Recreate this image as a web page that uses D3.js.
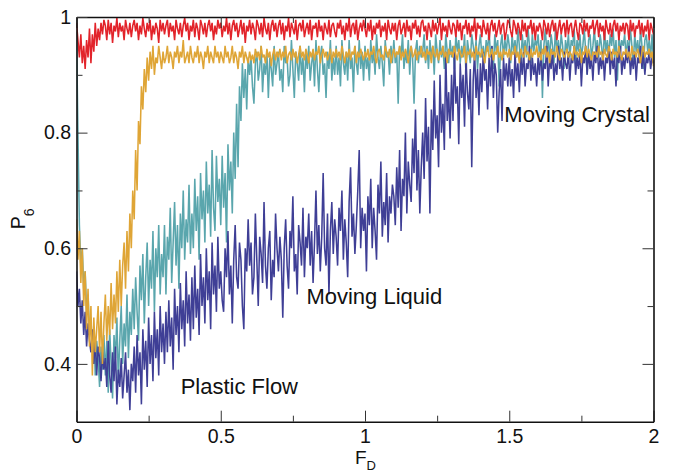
<!DOCTYPE html>
<html>
<head>
<meta charset="utf-8">
<script src="https://cdn.jsdelivr.net/npm/d3@7"></script>
<style>
  html, body { margin: 0; padding: 0; background: #fff; }
  svg { display: block; }
  text { font-family: "Liberation Sans", Arial, Helvetica, sans-serif; fill: #111; }
</style>
</head>
<body>
<script>
// ---------------- data (F_D from 0 to 2, equally spaced samples) ----------------
const fdMin = 0, fdMax = 2;

const seriesRed = [
  0.99,0.96,0.93,0.97,0.92,0.95,0.91,0.96,0.93,0.98,0.92,0.97,0.94,0.99,0.95,0.98,0.96,0.99,0.97,0.995,
  0.985,0.96,0.995,0.97,0.99,0.955,0.985,0.975,0.998,0.965,0.99,0.975,0.985,0.96,0.995,0.98,0.97,0.99,0.965,0.985,
  0.995,0.975,0.99,0.96,0.985,0.97,0.998,0.98,0.965,0.99,0.975,0.995,0.96,0.985,0.97,0.99,0.98,0.955,0.995,0.975,
  0.99,0.97,0.985,0.995,0.965,0.99,0.975,0.985,0.96,0.995,0.98,0.97,0.99,0.965,0.985,0.998,0.975,0.99,0.96,0.985,
  0.975,0.995,0.965,0.99,0.98,0.96,0.995,0.985,0.97,0.99,0.965,0.985,0.995,0.975,0.99,0.96,0.985,0.97,0.995,0.98,
  0.99,0.965,0.985,0.975,0.998,0.97,0.99,0.96,0.985,0.995,0.975,0.99,0.965,0.98,0.995,0.97,0.99,0.955,0.985,0.975,
  0.995,0.97,0.99,0.98,0.96,0.995,0.985,0.97,0.99,0.965,0.998,0.98,0.97,0.99,0.96,0.985,0.995,0.975,0.99,0.965,
  0.985,0.995,0.97,0.99,0.96,0.985,0.975,0.998,0.965,0.99,0.98,0.97,0.995,0.96,0.985,0.99,0.975,0.995,0.965,0.98,
  0.99,0.97,0.995,0.96,0.985,0.98,0.99,0.965,0.995,0.975,0.985,0.96,0.99,0.98,0.97,0.995,0.965,0.985,0.99,0.975,
  0.965,0.99,0.98,0.995,0.97,0.985,0.96,0.99,0.975,0.998,0.965,0.985,0.99,0.97,0.995,0.96,0.98,0.99,0.975,0.995,
  0.98,0.965,0.99,0.975,0.995,0.96,0.985,0.97,0.99,0.98,0.995,0.965,0.985,0.975,0.99,0.96,0.995,0.98,0.97,0.99,
  0.975,0.99,0.96,0.985,0.995,0.97,0.98,0.99,0.965,0.995,0.975,0.985,0.96,0.99,0.98,0.995,0.97,0.985,0.965,0.99,
  0.995,0.975,0.985,0.96,0.99,0.98,0.965,0.995,0.975,0.99,0.97,0.985,0.998,0.96,0.99,0.975,0.985,0.965,0.995,0.98,
  0.97,0.99,0.985,0.965,0.995,0.975,0.99,0.96,0.985,0.98,0.995,0.97,0.99,0.965,0.985,0.975,0.998,0.96,0.99,0.98,
  0.985,0.965,0.995,0.98,0.97,0.99,0.96,0.985,0.995,0.975,0.99,0.965,0.98,0.995,0.97,0.985,0.99,0.96,0.975,0.995,
  0.99,0.975,0.965,0.995,0.985,0.97,0.99,0.98,0.96,0.995,0.975,0.99,0.965,0.985,0.98,0.995,0.97,0.99,0.96,0.985,
  0.975,0.99,0.98,0.96,0.995,0.985,0.97,0.99,0.965,0.985,0.995,0.975,0.99,0.96,0.98,0.995,0.97,0.985,0.99,0.965,
  0.995,0.97,0.985,0.99,0.965,0.98,0.995,0.975,0.96,0.99,0.985,0.97,0.995,0.975,0.99,0.965,0.985,0.98,0.995,0.97,
  0.985,0.995,0.965,0.99,0.975,0.985,0.96,0.995,0.98,0.97,0.99,0.965,0.985,0.995,0.975,0.99,0.96,0.985,0.975,0.99,
  0.97,0.99,0.985,0.96,0.995,0.975,0.99,0.965,0.985,0.98,0.995,0.97,0.99,0.965,0.985,0.975,0.995,0.96,0.99,0.98,
  0.97
];

const seriesOrange = [
  0.65,0.58,0.63,0.54,0.60,0.50,0.56,0.46,0.53,0.43,0.50,0.38,0.48,0.42,0.46,0.50,0.42,0.49,0.40,0.47,
  0.52,0.44,0.50,0.45,0.54,0.46,0.52,0.47,0.56,0.49,0.58,0.50,0.57,0.61,0.53,0.63,0.56,0.66,0.60,0.70,
  0.65,0.77,0.70,0.82,0.78,0.88,0.84,0.91,0.87,0.93,0.89,0.94,0.91,0.95,0.90,0.93,0.92,0.95,0.93,0.91,
  0.94,0.92,0.93,0.95,0.92,0.94,0.93,0.91,0.94,0.93,0.95,0.92,0.94,0.93,0.96,0.92,0.93,0.94,0.92,0.95,
  0.93,0.92,0.94,0.93,0.95,0.92,0.94,0.93,0.91,0.94,0.93,0.95,0.92,0.94,0.93,0.92,0.95,0.93,0.94,0.92,
  0.94,0.93,0.92,0.95,0.93,0.94,0.92,0.93,0.95,0.92,0.94,0.93,0.91,0.94,0.93,0.95,0.92,0.94,0.93,0.92,
  0.94,0.925,0.935,0.92,0.945,0.93,0.94,0.925,0.95,0.93,0.935,0.92,0.945,0.93,0.94,0.915,0.935,0.945,0.925,0.94,
  0.93,0.945,0.925,0.94,0.93,0.95,0.92,0.935,0.94,0.925,0.945,0.93,0.94,0.92,0.935,0.95,0.93,0.94,0.925,0.945,
  0.935,0.92,0.94,0.93,0.945,0.925,0.94,0.935,0.95,0.92,0.935,0.945,0.93,0.94,0.925,0.935,0.945,0.92,0.94,0.93,
  0.945,0.93,0.94,0.925,0.95,0.935,0.92,0.94,0.93,0.945,0.925,0.94,0.935,0.95,0.92,0.94,0.93,0.945,0.935,0.925,
  0.94,0.93,0.945,0.925,0.94,0.935,0.95,0.93,0.92,0.94,0.945,0.93,0.935,0.925,0.95,0.94,0.93,0.945,0.92,0.935,
  0.945,0.93,0.94,0.935,0.95,0.925,0.94,0.93,0.945,0.935,0.92,0.94,0.95,0.93,0.935,0.945,0.925,0.94,0.935,0.95,
  0.93,0.94,0.925,0.945,0.935,0.94,0.92,0.95,0.935,0.93,0.945,0.925,0.94,0.935,0.95,0.93,0.94,0.92,0.945,0.935,
  0.94,0.93,0.95,0.935,0.925,0.945,0.94,0.93,0.935,0.95,0.92,0.94,0.935,0.945,0.93,0.94,0.925,0.95,0.935,0.94,
  0.93,0.945,0.935,0.92,0.94,0.95,0.93,0.935,0.945,0.925,0.94,0.935,0.95,0.93,0.94,0.925,0.945,0.935,0.94,0.93,
  0.945,0.925,0.94,0.935,0.95,0.93,0.94,0.92,0.945,0.935,0.93,0.95,0.935,0.94,0.925,0.945,0.93,0.94,0.935,0.95,
  0.93,0.94,0.925,0.945,0.935,0.95,0.93,0.94,0.92,0.945,0.935,0.94,0.93,0.95,0.935,0.925,0.945,0.94,0.93,0.935,
  0.945,0.93,0.94,0.935,0.925,0.95,0.935,0.94,0.93,0.945,0.92,0.94,0.935,0.95,0.93,0.945,0.935,0.925,0.94,0.935,
  0.94,0.93,0.95,0.935,0.94,0.925,0.945,0.935,0.93,0.95,0.94,0.925,0.945,0.935,0.94,0.93,0.95,0.935,0.925,0.94,
  0.935,0.945,0.93,0.94,0.925,0.95,0.935,0.94,0.93,0.945,0.935,0.92,0.94,0.95,0.93,0.94,0.935,0.945,0.93,0.94,
  0.915
];

const seriesTeal = [
  0.975,0.80,0.64,0.57,0.60,0.53,0.56,0.49,0.52,0.45,0.48,0.42,0.46,0.38,0.44,0.41,0.36,0.43,0.39,0.45,
  0.38,0.44,0.35,0.46,0.40,0.34,0.45,0.41,0.48,0.37,0.44,0.50,0.40,0.47,0.43,0.52,0.41,0.49,0.45,0.53,
  0.46,0.55,0.49,0.44,0.57,0.51,0.59,0.47,0.55,0.61,0.50,0.58,0.53,0.63,0.49,0.60,0.55,0.64,0.52,0.59,
  0.55,0.64,0.52,0.62,0.58,0.67,0.54,0.61,0.68,0.57,0.64,0.53,0.66,0.60,0.70,0.58,0.65,0.61,0.71,0.59,
  0.66,0.60,0.72,0.63,0.69,0.58,0.73,0.65,0.70,0.61,0.75,0.66,0.71,0.62,0.77,0.67,0.63,0.76,0.68,0.72,
  0.64,0.76,0.67,0.73,0.61,0.78,0.70,0.75,0.66,0.80,0.72,0.85,0.74,0.88,0.82,0.92,0.86,0.91,0.84,0.93,
  0.90,0.93,0.88,0.85,0.92,0.94,0.89,0.91,0.95,0.87,0.92,0.90,0.94,0.86,0.93,0.91,0.88,0.95,0.90,0.92,
  0.94,0.89,0.91,0.87,0.95,0.92,0.93,0.88,0.90,0.96,0.91,0.86,0.94,0.92,0.89,0.95,0.90,0.93,0.87,0.94,
  0.91,0.95,0.89,0.92,0.94,0.88,0.96,0.91,0.87,0.93,0.95,0.90,0.92,0.86,0.94,0.91,0.96,0.89,0.93,0.90,
  0.95,0.90,0.93,0.88,0.96,0.92,0.90,0.94,0.89,0.96,0.91,0.93,0.87,0.95,0.92,0.90,0.96,0.91,0.94,0.89,
  0.95,0.91,0.93,0.89,0.96,0.92,0.94,0.90,0.97,0.93,0.91,0.95,0.92,0.88,0.96,0.93,0.94,0.90,0.95,0.92,
  0.96,0.92,0.94,0.85,0.95,0.93,0.97,0.91,0.94,0.92,0.96,0.90,0.95,0.93,0.85,0.94,0.96,0.92,0.95,0.93,
  0.94,0.97,0.92,0.95,0.91,0.96,0.93,0.95,0.90,0.97,0.94,0.92,0.96,0.93,0.95,0.91,0.97,0.94,0.92,0.96,
  0.93,0.95,0.91,0.97,0.94,0.96,0.92,0.95,0.93,0.97,0.90,0.96,0.94,0.92,0.97,0.95,0.93,0.96,0.91,0.95,
  0.97,0.93,0.95,0.92,0.96,0.94,0.98,0.93,0.95,0.91,0.97,0.94,0.96,0.88,0.95,0.97,0.93,0.96,0.94,0.97,
  0.95,0.92,0.97,0.94,0.96,0.93,0.98,0.95,0.91,0.97,0.94,0.96,0.93,0.98,0.95,0.92,0.97,0.94,0.96,0.95,
  0.97,0.93,0.96,0.86,0.95,0.98,0.94,0.96,0.93,0.97,0.95,0.92,0.98,0.94,0.96,0.93,0.97,0.95,0.91,0.96,
  0.94,0.97,0.93,0.96,0.95,0.98,0.92,0.96,0.94,0.97,0.93,0.95,0.98,0.94,0.90,0.96,0.97,0.93,0.95,0.98,
  0.94,0.96,0.93,0.97,0.95,0.92,0.98,0.94,0.96,0.93,0.97,0.95,0.98,0.93,0.96,0.89,0.97,0.94,0.96,0.95,
  0.97,0.93,0.96,0.94,0.98,0.95,0.92,0.97,0.94,0.96,0.93,0.98,0.95,0.91,0.96,0.97,0.94,0.96,0.93,0.97,
  0.92
];

const seriesNavy = [
  0.56,0.50,0.53,0.47,0.51,0.45,0.49,0.43,0.47,0.44,0.42,0.46,0.40,0.44,0.38,0.43,0.41,0.37,0.42,0.39,
  0.41,0.36,0.44,0.38,0.35,0.42,0.37,0.43,0.33,0.39,0.36,0.41,0.34,0.38,0.42,0.35,0.39,0.32,0.40,0.37,
  0.43,0.35,0.45,0.38,0.42,0.33,0.46,0.39,0.44,0.36,0.48,0.40,0.45,0.37,0.49,0.41,0.46,0.38,0.50,0.42,
  0.47,0.40,0.49,0.42,0.51,0.43,0.48,0.39,0.53,0.45,0.50,0.42,0.54,0.46,0.51,0.43,0.56,0.47,0.52,0.44,
  0.55,0.46,0.57,0.48,0.53,0.45,0.59,0.50,0.55,0.47,0.60,0.51,0.56,0.46,0.61,0.52,0.57,0.49,0.62,0.53,
  0.56,0.51,0.49,0.60,0.55,0.63,0.52,0.57,0.47,0.58,0.64,0.55,0.53,0.61,0.58,0.50,0.46,0.60,0.56,0.65,
  0.57,0.61,0.52,0.55,0.66,0.58,0.50,0.62,0.59,0.54,0.68,0.57,0.53,0.60,0.63,0.51,0.58,0.55,0.66,0.60,
  0.56,0.62,0.58,0.48,0.60,0.65,0.57,0.53,0.63,0.60,0.69,0.56,0.59,0.52,0.64,0.61,0.57,0.67,0.55,0.62,
  0.60,0.66,0.57,0.63,0.54,0.61,0.70,0.59,0.64,0.56,0.62,0.73,0.60,0.57,0.66,0.52,0.63,0.68,0.59,0.65,
  0.62,0.57,0.67,0.63,0.70,0.58,0.65,0.61,0.55,0.68,0.74,0.62,0.66,0.59,0.64,0.70,0.77,0.60,0.67,0.63,
  0.66,0.56,0.69,0.64,0.72,0.60,0.67,0.63,0.58,0.71,0.66,0.75,0.62,0.68,0.64,0.73,0.61,0.69,0.66,0.71,
  0.69,0.64,0.74,0.67,0.77,0.63,0.72,0.69,0.80,0.66,0.75,0.71,0.68,0.79,0.73,0.84,0.70,0.77,0.66,0.74,
  0.80,0.72,0.86,0.75,0.81,0.66,0.84,0.77,0.89,0.79,0.83,0.74,0.90,0.80,0.85,0.77,0.94,0.82,0.87,0.79,
  0.90,0.82,0.94,0.85,0.88,0.78,0.92,0.86,0.90,0.81,0.93,0.87,0.84,0.91,0.74,0.89,0.94,0.86,0.91,0.83,
  0.92,0.87,0.94,0.89,0.91,0.84,0.93,0.88,0.95,0.86,0.92,0.90,0.80,0.87,0.91,0.82,0.93,0.89,0.92,0.88,
  0.93,0.88,0.91,0.86,0.94,0.89,0.92,0.87,0.93,0.90,0.94,0.88,0.92,0.91,0.95,0.89,0.93,0.90,0.92,0.88,
  0.93,0.90,0.94,0.89,0.92,0.91,0.95,0.88,0.93,0.91,0.94,0.89,0.92,0.90,0.95,0.91,0.93,0.89,0.94,0.92,
  0.91,0.94,0.89,0.93,0.92,0.95,0.90,0.93,0.91,0.94,0.88,0.93,0.92,0.95,0.90,0.94,0.91,0.93,0.89,0.94,
  0.92,0.95,0.90,0.93,0.91,0.94,0.89,0.93,0.92,0.95,0.90,0.94,0.91,0.93,0.88,0.94,0.92,0.95,0.90,0.93,
  0.91,0.94,0.92,0.95,0.90,0.93,0.91,0.94,0.89,0.93,0.92,0.95,0.91,0.94,0.90,0.93,0.92,0.94,0.91,0.93,
  0.92
];

const xMajorTicks = [0, 0.5, 1, 1.5, 2];
const xTickLabels = ["0", "0.5", "1", "1.5", "2"];
const xMinorTicks = [0.25, 0.75, 1.25, 1.75];
const yMajorTicks = [0.4, 0.6, 0.8, 1];
const yTickLabels = ["0.4", "0.6", "0.8", "1"];
const yMinorTicks = [0.5, 0.7, 0.9];

const annotations = [
  { text: "Plastic Flow",   fd: 0.361, p6: 0.348 },
  { text: "Moving Liquid",  fd: 0.797, p6: 0.5035 },
  { text: "Moving Crystal", fd: 1.483, p6: 0.819 }
];

// drawing order: first drawn is at the bottom
const series = [
  { name: "teal",   values: seriesTeal,   color: "#5aa6ad" },
  { name: "navy",   values: seriesNavy,   color: "#3f3f96" },
  { name: "orange", values: seriesOrange, color: "#dfa536" },
  { name: "red",    values: seriesRed,    color: "#e2232a" }
];

// ---------------- chart ----------------
const W = 680, H = 472;
const svg = d3.select("body").append("svg").attr("width", W).attr("height", H);

const x = d3.scaleLinear().domain([0, 2]).range([76.5, 653.5]);
const y = d3.scaleLinear().domain([0.3, 1]).range([421.7, 17]);

svg.append("clipPath").attr("id", "plotclip")
  .append("rect")
  .attr("x", x(0)).attr("y", y(1))
  .attr("width", x(2) - x(0)).attr("height", y(0.3) - y(1));

const plot = svg.append("g").attr("clip-path", "url(#plotclip)");

series.forEach(s => {
  const n = s.values.length;
  const line = d3.line()
    .x((d, i) => x(fdMin + (fdMax - fdMin) * i / (n - 1)))
    .y(d => y(d));
  plot.append("path")
    .datum(s.values)
    .attr("fill", "none")
    .attr("stroke", s.color)
    .attr("stroke-width", 1.55)
    .attr("stroke-linejoin", "bevel")
    .attr("d", line);
});

// axes
function styleAxis(g, showDomain) {
  g.selectAll(".tick line").attr("stroke", "#333").attr("stroke-width", 1);
  g.selectAll("text").style("font-size", "19.5px").attr("fill", "#111")
    .style("font-family", '"Liberation Sans", Arial, Helvetica, sans-serif');
  if (showDomain) g.select(".domain").attr("stroke", "#111").attr("stroke-width", 1.6);
  else g.select(".domain").remove();
}

// bottom
svg.append("g").attr("transform", `translate(0,${y(0.3)})`)
  .call(d3.axisBottom(x).tickValues(xMajorTicks)
    .tickFormat((d, i) => xTickLabels[i]).tickSizeInner(-11).tickSizeOuter(0).tickPadding(7))
  .call(g => styleAxis(g, true));
svg.append("g").attr("transform", `translate(0,${y(0.3)})`)
  .call(d3.axisBottom(x).tickValues(xMinorTicks).tickFormat("").tickSizeInner(-6).tickSizeOuter(0))
  .call(g => styleAxis(g, false));

// top
svg.append("g").attr("transform", `translate(0,${y(1)})`)
  .call(d3.axisTop(x).tickValues(xMajorTicks).tickFormat("").tickSizeInner(-11).tickSizeOuter(0))
  .call(g => styleAxis(g, true));
svg.append("g").attr("transform", `translate(0,${y(1)})`)
  .call(d3.axisTop(x).tickValues(xMinorTicks).tickFormat("").tickSizeInner(-6).tickSizeOuter(0))
  .call(g => styleAxis(g, false));

// left
svg.append("g").attr("transform", `translate(${x(0)},0)`)
  .call(d3.axisLeft(y).tickValues(yMajorTicks)
    .tickFormat((d, i) => yTickLabels[i]).tickSizeInner(-11).tickSizeOuter(0).tickPadding(5.5))
  .call(g => styleAxis(g, true));
svg.append("g").attr("transform", `translate(${x(0)},0)`)
  .call(d3.axisLeft(y).tickValues(yMinorTicks).tickFormat("").tickSizeInner(-6).tickSizeOuter(0))
  .call(g => styleAxis(g, false));

// right
svg.append("g").attr("transform", `translate(${x(2)},0)`)
  .call(d3.axisRight(y).tickValues(yMajorTicks).tickFormat("").tickSizeInner(-11).tickSizeOuter(0))
  .call(g => styleAxis(g, true));
svg.append("g").attr("transform", `translate(${x(2)},0)`)
  .call(d3.axisRight(y).tickValues(yMinorTicks).tickFormat("").tickSizeInner(-6).tickSizeOuter(0))
  .call(g => styleAxis(g, false));

// annotations
svg.append("g").selectAll("text")
  .data(annotations).join("text")
  .attr("x", d => x(d.fd)).attr("y", d => y(d.p6))
  .style("font-size", "22px")
  .text(d => d.text);

// axis titles
const xt = svg.append("text").attr("x", (x(0) + x(2)) / 2 - 10).attr("y", 464).style("font-size", "19px");
xt.append("tspan").text("F");
xt.append("tspan").attr("dy", 5.5).style("font-size", "13px").text("D");

const yt = svg.append("text")
  .attr("transform", `translate(25,${(y(0.3) + y(1)) / 2 + 10})rotate(-90)`)
  .style("font-size", "19.5px");
yt.append("tspan").text("P");
yt.append("tspan").attr("dy", 9).style("font-size", "14px").text("6");
</script>
</body>
</html>
